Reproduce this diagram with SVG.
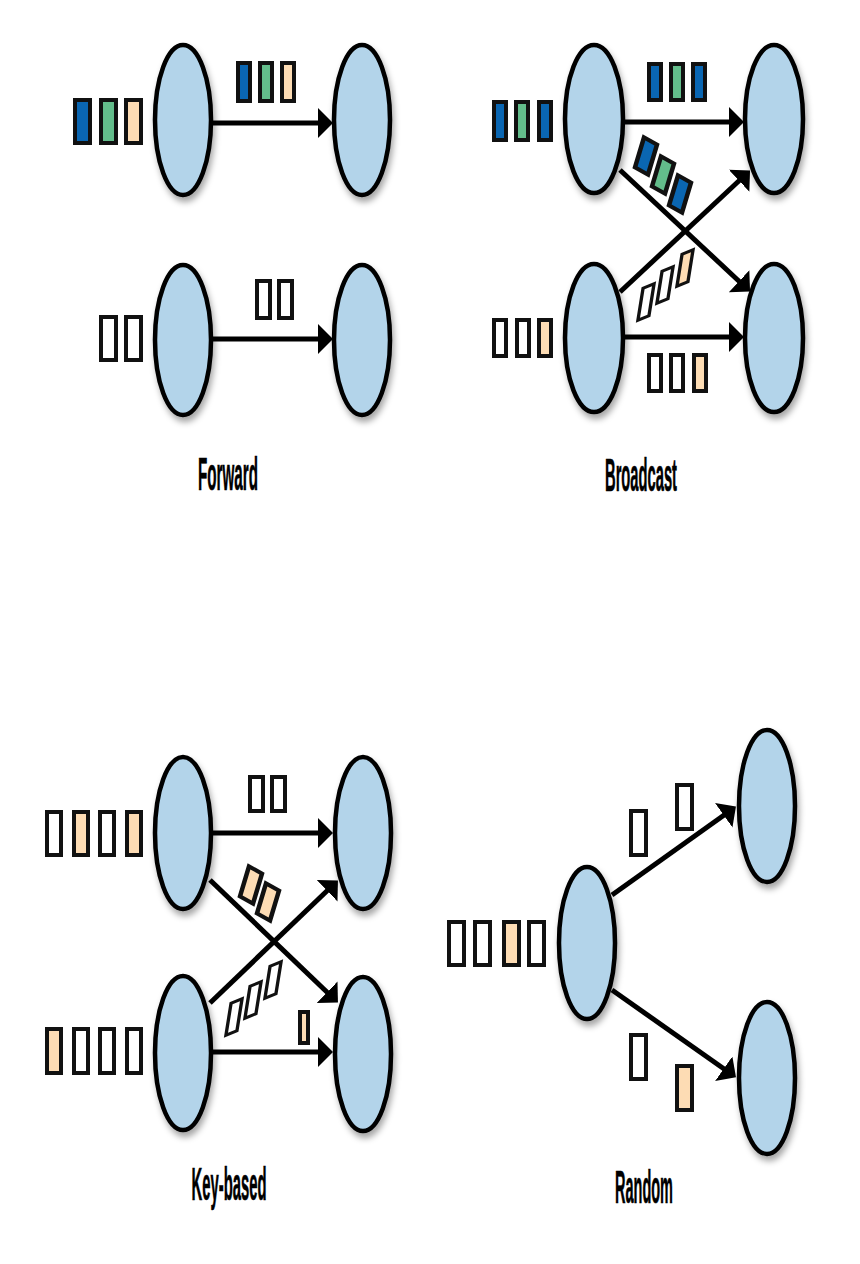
<svg xmlns="http://www.w3.org/2000/svg" width="860" height="1264" viewBox="0 0 860 1264">
<style>
.node ellipse{fill:#b3d4ea;stroke:#000;stroke-width:4.5;filter:url(#sh)}
.bx{stroke:#111;stroke-width:4}
.dg{stroke-width:3.6}
.b{fill:#0a66b2}.g{fill:#63bd8b}.p{fill:#fddcb4}.w{fill:#fff}
.ln{stroke:#000;stroke-width:5;fill:none;marker-end:url(#ah)}
.lbl{font-family:"Liberation Sans",Arial,sans-serif;font-weight:bold;font-size:47px;text-anchor:middle;fill:#000;stroke:#000;stroke-width:0.6}
</style>
<defs>
<filter id="sh" x="-30%" y="-20%" width="160%" height="150%">
<feDropShadow dx="2" dy="5" stdDeviation="3" flood-color="#000" flood-opacity="0.35"/>
</filter>
<marker id="ah" markerUnits="userSpaceOnUse" markerWidth="16" markerHeight="32" refX="4" refY="15" orient="auto">
<path d="M0,0 L15,15 L0,30 Z" fill="#000"/>
</marker>
</defs>
<rect width="860" height="1264" fill="#fff"/>

<g id="connectors">
<line class="ln" x1="213" y1="123" x2="322" y2="123"/>
<line class="ln" x1="213" y1="339" x2="322" y2="339"/>
<line class="ln" x1="625" y1="122" x2="733" y2="122"/>
<line class="ln" x1="625" y1="337" x2="733" y2="337"/>
<line class="ln" x1="620" y1="170" x2="742" y2="284"/>
<line class="ln" x1="620" y1="292" x2="742" y2="178"/>
<line class="ln" x1="213" y1="833" x2="322" y2="833"/>
<line class="ln" x1="213" y1="1052" x2="322" y2="1052"/>
<line class="ln" x1="210" y1="880" x2="330" y2="995"/>
<line class="ln" x1="210" y1="1003" x2="330" y2="888"/>
<line class="ln" x1="612" y1="895" x2="727" y2="813"/>
<line class="ln" x1="612" y1="990" x2="727" y2="1071"/>
</g>

<g id="forward-src-top" class="node"><ellipse cx="183" cy="120" rx="28" ry="75"/></g>
<g id="forward-dst-top" class="node"><ellipse cx="362" cy="120" rx="28" ry="75"/></g>
<g id="forward-src-bot" class="node"><ellipse cx="183" cy="340" rx="28" ry="75"/></g>
<g id="forward-dst-bot" class="node"><ellipse cx="362" cy="340" rx="28" ry="75"/></g>

<g id="broadcast-src-top" class="node"><ellipse cx="594" cy="119" rx="29" ry="74"/></g>
<g id="broadcast-dst-top" class="node"><ellipse cx="774" cy="119" rx="29" ry="74"/></g>
<g id="broadcast-src-bot" class="node"><ellipse cx="594" cy="338" rx="29" ry="74"/></g>
<g id="broadcast-dst-bot" class="node"><ellipse cx="774" cy="338" rx="29" ry="74"/></g>

<g id="key-src-top" class="node"><ellipse cx="183" cy="833" rx="28" ry="76"/></g>
<g id="key-dst-top" class="node"><ellipse cx="363" cy="833" rx="28" ry="76"/></g>
<g id="key-src-bot" class="node"><ellipse cx="183" cy="1053" rx="28" ry="77"/></g>
<g id="key-dst-bot" class="node"><ellipse cx="363" cy="1054" rx="28" ry="77"/></g>

<g id="random-src" class="node"><ellipse cx="587" cy="943" rx="28" ry="76"/></g>
<g id="random-dst-top" class="node"><ellipse cx="767" cy="806" rx="28" ry="76"/></g>
<g id="random-dst-bot" class="node"><ellipse cx="767" cy="1078" rx="28" ry="76"/></g>

<g id="forward-items">
<rect class="bx b" x="75" y="100" width="15" height="43"/>
<rect class="bx g" x="101" y="100" width="15" height="43"/>
<rect class="bx p" x="126" y="100" width="15" height="43"/>
<rect class="bx b" x="238" y="63" width="12" height="38"/>
<rect class="bx g" x="260" y="63" width="12" height="38"/>
<rect class="bx p" x="282" y="63" width="12" height="38"/>
<rect class="bx w" x="101" y="317" width="15" height="43"/>
<rect class="bx w" x="126" y="317" width="15" height="43"/>
<rect class="bx w" x="257" y="281" width="13" height="37"/>
<rect class="bx w" x="279" y="281" width="13" height="37"/>
</g>

<g id="broadcast-items">
<rect class="bx b" x="494" y="102" width="12" height="38"/>
<rect class="bx g" x="516" y="102" width="12" height="38"/>
<rect class="bx b" x="539" y="102" width="12" height="38"/>
<rect class="bx b" x="649" y="64" width="12" height="36"/>
<rect class="bx g" x="671" y="64" width="12" height="36"/>
<rect class="bx b" x="693" y="64" width="12" height="36"/>
<rect class="bx w" x="494" y="320" width="12" height="36"/>
<rect class="bx w" x="517" y="320" width="12" height="36"/>
<rect class="bx p" x="539" y="320" width="12" height="36"/>
<rect class="bx w" x="649" y="355" width="12" height="36"/>
<rect class="bx w" x="671" y="355" width="12" height="36"/>
<rect class="bx p" x="694" y="355" width="12" height="36"/>
<rect class="bx b" x="-6.5" y="-15" width="13" height="30" transform="matrix(1,0.55,-0.3,1,646,156)"/>
<rect class="bx g" x="-6.5" y="-15" width="13" height="30" transform="matrix(1,0.55,-0.3,1,663,175)"/>
<rect class="bx b" x="-6.5" y="-15" width="13" height="30" transform="matrix(1,0.55,-0.3,1,680,194)"/>
<rect class="bx dg w" x="-5.5" y="-16" width="11" height="32" transform="matrix(1,-0.42,-0.16,1,646,302)"/>
<rect class="bx dg w" x="-5.5" y="-16" width="11" height="32" transform="matrix(1,-0.42,-0.16,1,665,285)"/>
<rect class="bx dg p" x="-5.5" y="-16" width="11" height="32" transform="matrix(1,-0.42,-0.16,1,685,268)"/>
</g>

<g id="key-items">
<rect class="bx w" x="47" y="812" width="14" height="43"/>
<rect class="bx p" x="74" y="812" width="14" height="43"/>
<rect class="bx w" x="100" y="812" width="14" height="43"/>
<rect class="bx p" x="127" y="812" width="14" height="43"/>
<rect class="bx w" x="250" y="777" width="13" height="34"/>
<rect class="bx w" x="272" y="777" width="13" height="34"/>
<rect class="bx p" x="47" y="1029" width="14" height="44"/>
<rect class="bx w" x="74" y="1029" width="14" height="44"/>
<rect class="bx w" x="100" y="1029" width="14" height="44"/>
<rect class="bx w" x="127" y="1029" width="14" height="44"/>
<rect class="bx p" x="300" y="1012" width="8" height="31"/>
<rect class="bx p" x="-6.5" y="-15" width="13" height="30" transform="matrix(1,0.55,-0.3,1,251,885)"/>
<rect class="bx p" x="-6.5" y="-15" width="13" height="30" transform="matrix(1,0.55,-0.3,1,268,902)"/>
<rect class="bx dg w" x="-5.5" y="-16" width="11" height="32" transform="matrix(1,-0.42,-0.16,1,234,1017)"/>
<rect class="bx dg w" x="-5.5" y="-16" width="11" height="32" transform="matrix(1,-0.42,-0.16,1,253,1000)"/>
<rect class="bx dg w" x="-5.5" y="-16" width="11" height="32" transform="matrix(1,-0.42,-0.16,1,273,980)"/>
</g>

<g id="random-items">
<rect class="bx w" x="449" y="922" width="15" height="43"/>
<rect class="bx w" x="475" y="922" width="15" height="43"/>
<rect class="bx p" x="504" y="922" width="15" height="43"/>
<rect class="bx w" x="529" y="922" width="15" height="43"/>
<rect class="bx w" x="631" y="811" width="15" height="44"/>
<rect class="bx w" x="677" y="785" width="15" height="44"/>
<rect class="bx w" x="631" y="1035" width="15" height="44"/>
<rect class="bx p" x="677" y="1066" width="15" height="44"/>
</g>

<g id="labels">
<text class="lbl" x="228" y="490" textLength="60" lengthAdjust="spacingAndGlyphs">Forward</text>
<text class="lbl" x="641" y="491" textLength="72" lengthAdjust="spacingAndGlyphs">Broadcast</text>
<text class="lbl" x="229" y="1200" textLength="75" lengthAdjust="spacingAndGlyphs">Key-based</text>
<text class="lbl" x="644" y="1203" textLength="58" lengthAdjust="spacingAndGlyphs">Random</text>
</g>
</svg>
